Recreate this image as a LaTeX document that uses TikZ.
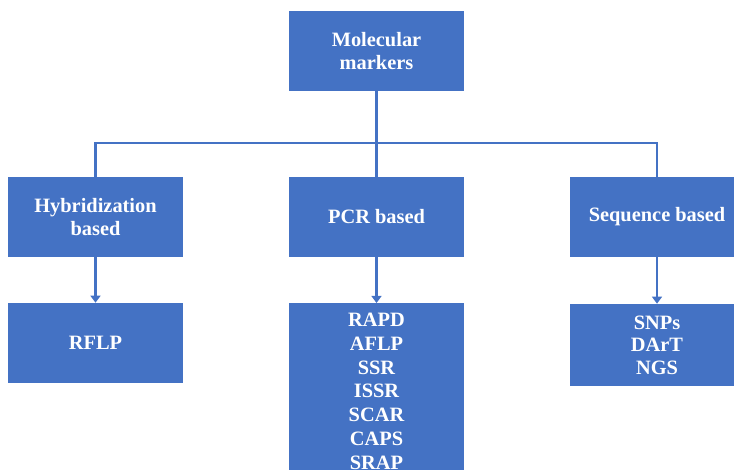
\documentclass[tikz,border=0pt]{standalone}
\usepackage{fontspec}
\setmainfont{Liberation Serif}
\usetikzlibrary{arrows.meta}
\definecolor{markerblue}{HTML}{4472C4}
\tikzset{
  box/.style={fill=markerblue, text=white, font=\bfseries\fontsize{14.5}{17}\selectfont,
    align=center, inner sep=0pt, minimum width=4.35cm, minimum height=2cm},
  link/.style={draw=markerblue, line width=2pt},
  arrowlink/.style={link, -{Triangle[width=7pt,length=5pt]}}
}

\begin{document}
\begin{tikzpicture}[x=0.025cm,y=-0.025cm]
\clip (0,0) rectangle (734,469);
% root
\node[box] (root) at (376.5,51) {Molecular\\markers};
\coordinate (bus) at (376.5,143);
% categories
\node[box] (hyb) at (95.5,217) {Hybridization\\based};
\node[box] (pcr) at (376.5,217) {PCR based};
\node[box] (seq) at (657,217) {Sequence based};
% marker types
\node[box] (rflp) at (95.5,343) {RFLP};
\node[box, anchor=north, minimum height=4.4cm] (pcrlist) at (376.5,303)
  {RAPD\\AFLP\\SSR\\ISSR\\SCAR\\CAPS\\SRAP};
\node[box, minimum height=2.05cm, font=\bfseries\fontsize{14.5}{16}\selectfont] (seqlist) at (657,345)
  {SNPs\\DArT\\NGS};
% connectors
\draw[link] (root.south) -- (bus);
\draw[link] (hyb.north) |- (bus) -| (seq.north);
\draw[link] (bus) -- (pcr.north);
\foreach \a/\b in {hyb/rflp,pcr/pcrlist,seq/seqlist}
  \draw[arrowlink] (\a.south) -- (\b.north);
\end{tikzpicture}
\end{document}
